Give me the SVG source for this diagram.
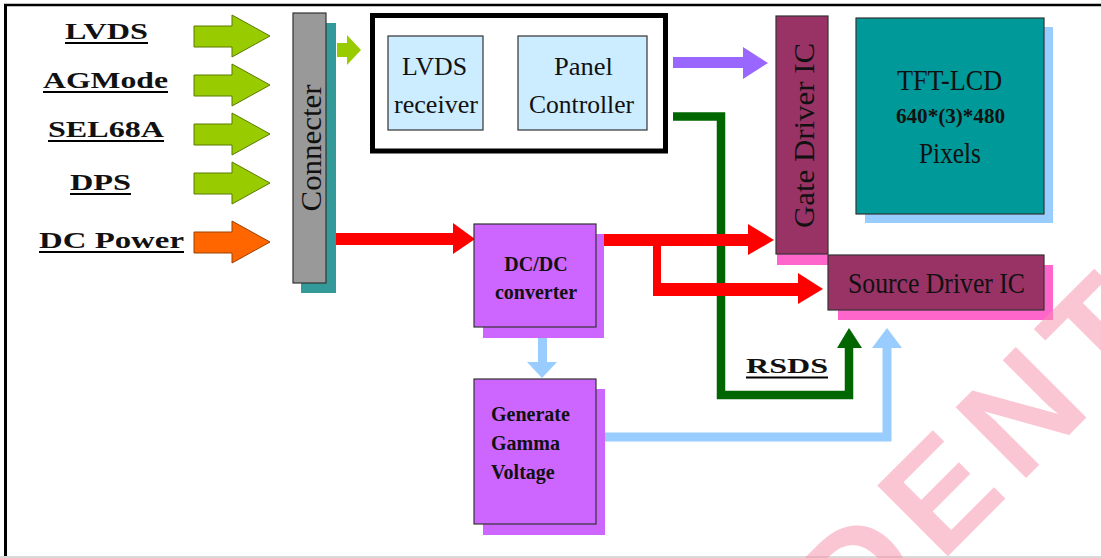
<svg xmlns="http://www.w3.org/2000/svg" width="1101" height="558" viewBox="0 0 1101 558">
  <style>
    text { font-family: "Liberation Serif", "Times New Roman", serif; }
    .serif { font-family: "Liberation Serif", "Times New Roman", serif; fill: #111; }
    .lbl { font-weight: bold; font-size: 24px; }
    .box { stroke: #333; stroke-width: 1.2; }
    .ul { stroke: #000; stroke-width: 2; }
    .inArrow { stroke: #5a7a00; stroke-width: 1; }
    .mark { font-family: "Liberation Sans", Arial, sans-serif; }
  </style>
  <defs>
    <!-- block arrow pointing right, tip at (270,0) -->
    <path id="blockArrow" d="M194,-10 H232 V-21 L270,0 L232,21 V11 H194 Z"/>
  </defs>

  <rect x="0" y="0" width="1101" height="558" fill="#fff"/>

  <!-- page frame -->
  <g id="frame">
    <line x1="4" y1="5" x2="1101" y2="5" stroke="#000" stroke-width="2.5"/>
    <line x1="5.5" y1="4" x2="5.5" y2="556" stroke="#000" stroke-width="3"/>
    <line x1="0" y1="557" x2="1101" y2="557" stroke="#ccc" stroke-width="1.5"/>
  </g>

  <!-- input signal labels -->
  <g id="inputs">
    <g id="in-lvds">
      <text class="serif lbl" x="65" y="39" textLength="83" lengthAdjust="spacingAndGlyphs">LVDS</text>
      <line class="ul" x1="65" y1="43" x2="148" y2="43"/>
      <use href="#blockArrow" transform="translate(0,36)" fill="#99cc00" class="inArrow"/>
    </g>
    <g id="in-agmode">
      <text class="serif lbl" x="43" y="88" textLength="125" lengthAdjust="spacingAndGlyphs">AGMode</text>
      <line class="ul" x1="43" y1="92" x2="168" y2="92"/>
      <use href="#blockArrow" transform="translate(0,85)" fill="#99cc00" class="inArrow"/>
    </g>
    <g id="in-sel68a">
      <text class="serif lbl" x="48" y="137" textLength="116" lengthAdjust="spacingAndGlyphs">SEL68A</text>
      <line class="ul" x1="48" y1="141" x2="164" y2="141"/>
      <use href="#blockArrow" transform="translate(0,134)" fill="#99cc00" class="inArrow"/>
    </g>
    <g id="in-dps">
      <text class="serif lbl" x="70" y="190" textLength="61" lengthAdjust="spacingAndGlyphs">DPS</text>
      <line class="ul" x1="70" y1="194" x2="131" y2="194"/>
      <use href="#blockArrow" transform="translate(0,183)" fill="#99cc00" class="inArrow"/>
    </g>
    <g id="in-dcpower">
      <text class="serif lbl" x="39" y="248" textLength="145" lengthAdjust="spacingAndGlyphs">DC Power</text>
      <line class="ul" x1="39" y1="252" x2="184" y2="252"/>
      <use href="#blockArrow" transform="translate(0,242)" fill="#ff6600" stroke="#9a4000" stroke-width="1"/>
    </g>
  </g>

  <!-- connectors -->
  <g id="connectors">
    <!-- connecter to LVDS receiver -->
    <polygon points="337,43 347,43 347,35 361,50 347,65 347,57 337,57" fill="#99cc00"/>
    <!-- LVDS receiver to panel controller -->
    <polygon points="483,79 497,79 497,69 519,86 497,103 497,94 483,94" fill="#cdeaf8"/>
    <!-- panel controller to gate driver -->
    <polygon points="673,57 743,57 743,47 768,63 743,79 743,68 673,68" fill="#9966ff"/>
    <!-- RSDS bus to source driver -->
    <polyline points="673,116.5 721,116.5 721,395 849,395 849,347" fill="none" stroke="#006600" stroke-width="8.5"/>
    <polygon points="837,348 849,328 862,348" fill="#006600"/>
    <!-- power from connecter to DC/DC -->
    <polygon points="336,233 453,233 453,223 475,239 453,254 453,245 336,245" fill="#ff0000"/>
    <!-- DC/DC to gate driver -->
    <polygon points="596,234 748,234 748,224 774,240 748,255 748,246 596,246" fill="#ff0000"/>
    <!-- DC/DC to source driver -->
    <polygon points="653,240 661,240 661,283 798,283 798,273 823,289 798,304 798,296 653,296" fill="#ff0000"/>
    <!-- DC/DC to gamma generator -->
    <polygon points="538,338 547,338 547,362 557,362 542,378 527,362 538,362" fill="#99ccff"/>
    <!-- gamma voltages to source driver -->
    <polyline points="605,437 887,437 887,347" fill="none" stroke="#99ccff" stroke-width="9"/>
    <polygon points="872,348 887,328 902,348" fill="#99ccff"/>
    <text class="serif" x="746" y="373" font-weight="bold" font-size="22" textLength="82" lengthAdjust="spacingAndGlyphs">RSDS</text>
    <line class="ul" x1="746" y1="377.5" x2="828" y2="377.5"/>
  </g>

  <!-- connecter -->
  <g id="connecter">
    <rect x="301" y="23" width="35" height="270" fill="#339999"/>
    <rect x="293" y="13" width="33" height="270" fill="#999999" class="box"/>
    <text class="serif" transform="translate(321,148) rotate(-90)" text-anchor="middle" font-size="29" textLength="127" lengthAdjust="spacingAndGlyphs" fill="#222">Connecter</text>
  </g>

  <!-- timing controller block -->
  <g id="timing-block">
    <rect x="372.5" y="15.5" width="293" height="135.5" fill="#fff" stroke="#000" stroke-width="5"/>
  </g>
  <g id="lvds-receiver">
    <rect x="388" y="36" width="95" height="94" fill="#ccecff" class="box"/>
    <text class="serif" x="402" y="75" font-size="26" textLength="65" lengthAdjust="spacingAndGlyphs">LVDS</text>
    <text class="serif" x="394" y="113" font-size="26" textLength="84" lengthAdjust="spacingAndGlyphs">receiver</text>
  </g>
  <g id="panel-controller">
    <rect x="518" y="36" width="129" height="94" fill="#ccecff" class="box"/>
    <text class="serif" x="554" y="75" font-size="26" textLength="59" lengthAdjust="spacingAndGlyphs">Panel</text>
    <text class="serif" x="529" y="113" font-size="26" textLength="105" lengthAdjust="spacingAndGlyphs">Controller</text>
  </g>

  <!-- DC/DC converter -->
  <g id="dcdc">
    <rect x="483" y="234" width="121" height="104" fill="#cc66ff"/>
    <rect x="474" y="224" width="122" height="103" fill="#cc66ff" class="box"/>
    <text class="serif" x="536" y="271" text-anchor="middle" font-weight="bold" font-size="20">DC/DC</text>
    <text class="serif" x="536" y="299" text-anchor="middle" font-weight="bold" font-size="20">converter</text>
  </g>

  <!-- gamma voltage generator -->
  <g id="gamma">
    <rect x="483" y="389" width="122" height="146" fill="#cc66ff"/>
    <rect x="474" y="379" width="122" height="145" fill="#cc66ff" class="box"/>
    <text class="serif" x="491" y="421" font-weight="bold" font-size="20">Generate</text>
    <text class="serif" x="491" y="450" font-weight="bold" font-size="20">Gamma</text>
    <text class="serif" x="491" y="479" font-weight="bold" font-size="20">Voltage</text>
  </g>

  <!-- gate driver -->
  <g id="gate-driver">
    <rect x="777" y="254" width="51" height="11" fill="#ff66cc"/>
    <rect x="776" y="16" width="52" height="238" fill="#993366" class="box"/>
    <text class="serif" transform="translate(814,135.5) rotate(-90)" text-anchor="middle" font-size="30" textLength="185" lengthAdjust="spacingAndGlyphs" fill="#222">Gate Driver IC</text>
  </g>

  <!-- TFT panel -->
  <g id="tft-lcd">
    <rect x="865" y="27" width="188" height="196" fill="#99ccff"/>
    <rect x="856" y="18" width="188" height="196" fill="#009999" class="box"/>
    <text class="serif" x="897" y="90" font-size="30" textLength="105" lengthAdjust="spacingAndGlyphs">TFT-LCD</text>
    <text class="serif" x="896" y="123" font-weight="bold" font-size="22" textLength="109" lengthAdjust="spacingAndGlyphs">640*(3)*480</text>
    <text class="serif" x="919" y="163" font-size="30" textLength="62" lengthAdjust="spacingAndGlyphs">Pixels</text>
  </g>

  <!-- source driver -->
  <g id="source-driver">
    <rect x="838" y="265" width="215" height="55" fill="#ff66cc"/>
    <rect x="828" y="255" width="216" height="55" fill="#993366" class="box"/>
    <text class="serif" x="848" y="293" font-size="30" textLength="177" lengthAdjust="spacingAndGlyphs" fill="#222">Source Driver IC</text>
  </g>

  <!-- watermark -->
  <g id="watermark" opacity="0.5">
    <text class="mark" transform="translate(857,647) rotate(-45)" font-size="145" font-weight="bold" letter-spacing="14" fill="#f98fa9">DENTI</text>
  </g>
</svg>
